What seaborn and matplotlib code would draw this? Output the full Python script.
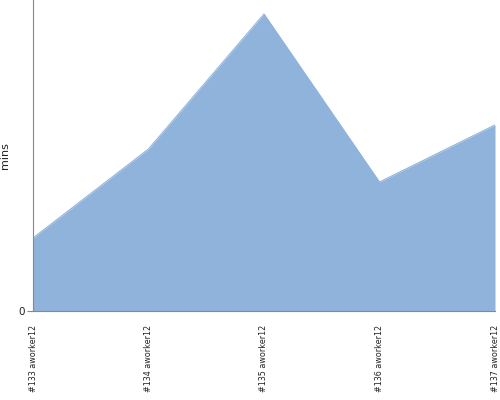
import numpy as np
import pandas as pd
import matplotlib
matplotlib.use("Agg")
import matplotlib.pyplot as plt
import seaborn as sns

labels = ["#133 aworker12", "#134 aworker12", "#135 aworker12", "#136 aworker12", "#137 aworker12"]
mins = [73, 162, 297, 129, 186]

sns.set_style("white")
plt.rcParams["font.family"] = ["DejaVu Sans"]

df = pd.DataFrame({"task": labels, "mins": mins})
df["pos"] = np.arange(len(df))

fig = plt.figure(figsize=(5, 4), dpi=100)
ax = fig.add_axes([33 / 500, 89 / 400, 462 / 500, 311 / 400])

color = "#8fb3db"
sns.lineplot(data=df, x="pos", y="mins", ax=ax, color=color, linewidth=0.8)
ax.fill_between(df["pos"], df["mins"], 0, color=color, linewidth=0)

ax.set_xlim(0, len(df) - 1)
ax.set_ylim(0, 311)
ax.set_xticks(df["pos"])
ax.set_xticklabels(df["task"], rotation=90, fontsize=5.8, color="#222222")
ax.set_yticks([0])
ax.set_yticklabels(["0"], fontsize=7.5, color="#222222")
ax.set_xlabel("")
ax.set_ylabel("mins", fontsize=8, color="#222222", labelpad=6)
ax.tick_params(axis="x", length=0, pad=10)
ax.tick_params(axis="y", length=4, width=0.8, color="#888888", direction="out", left=True, pad=2)

for s in ["top", "right"]:
    ax.spines[s].set_visible(False)
for s in ["left", "bottom"]:
    ax.spines[s].set_color("#888888")
    ax.spines[s].set_linewidth(0.8)

fig.savefig("out.png", dpi=100)
